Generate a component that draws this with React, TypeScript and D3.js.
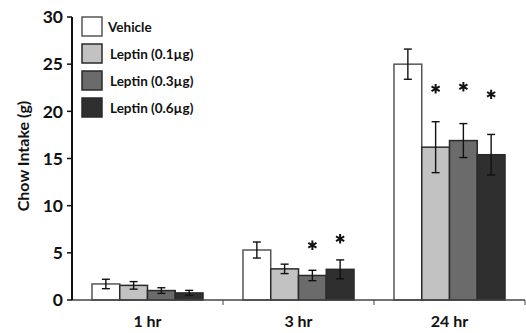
import * as d3 from "d3";

const groups = ["1 hr", "3 hr", "24 hr"];
const series = ["Vehicle", "Leptin (0.1µg)", "Leptin (0.3µg)", "Leptin (0.6µg)"];
const colors = ["#ffffff", "#c2c2c2", "#6b6b6b", "#2f2f2f"];
// mean intake per group, one array per series
const vehicle = [1.7, 5.3, 25.0];
const leptin01 = [1.55, 3.3, 16.2];
const leptin03 = [1.0, 2.6, 16.9];
const leptin06 = [0.75, 3.25, 15.4];
// SEM
const vehicleErr = [0.5, 0.85, 1.6];
const leptin01Err = [0.4, 0.5, 2.7];
const leptin03Err = [0.3, 0.55, 1.8];
const leptin06Err = [0.27, 1.0, 2.15];
// asterisk heights (null = no mark)
const stars3hr = [null, null, 5.8, 6.5];
const stars24hr = [null, 22.4, 22.6, 21.8];
const yTicks = [0, 5, 10, 15, 20, 25, 30];

const means = [vehicle, leptin01, leptin03, leptin06];
const errs = [vehicleErr, leptin01Err, leptin03Err, leptin06Err];
const stars = [[null, null, null, null], stars3hr, stars24hr];

const W = 526;
const H = 333;
const left = 72;
const right = 525;
const top = 17;
const bottom = 300;
const font = "Lato, 'Open Sans', sans-serif";

export default function App() {
  const x0 = d3.scaleBand().domain(groups).range([left, right]).padding(0);
  const x1 = d3
    .scaleBand()
    .domain(series)
    .range([0, x0.bandwidth()])
    .paddingInner(0)
    .paddingOuter(0.72);
  const y = d3.scaleLinear().domain([0, 30]).range([bottom, top]);
  const asterisk = d3.symbol().type(d3.symbolAsterisk).size(62)();

  return (
    <svg width={W} height={H} style={{ position: "absolute", left: 0, top: 0 }}>
      <rect width={W} height={H} fill="#fff" />

      {/* bars */}
      {groups.map((g, gi) => (
        <g key={g} transform={`translate(${x0(g)},0)`}>
          {series.map((s, si) => {
            const v = means[si][gi];
            const e = errs[si][gi];
            const bx = x1(s)!;
            const cx = bx + x1.bandwidth() / 2;
            return (
              <g key={s}>
                <rect
                  x={bx}
                  y={y(v)}
                  width={x1.bandwidth()}
                  height={bottom - y(v)}
                  fill={colors[si]}
                  stroke={si === 0 ? "#555" : "#2a2a2a"}
                  strokeWidth={1.5}
                />
                <g stroke="#111" strokeWidth={1.4}>
                  <line x1={cx} x2={cx} y1={y(v + e)} y2={y(v - e)} />
                  <line x1={cx - 4} x2={cx + 4} y1={y(v + e)} y2={y(v + e)} />
                  <line x1={cx - 4} x2={cx + 4} y1={y(v - e)} y2={y(v - e)} />
                </g>
              </g>
            );
          })}
          {stars[gi].map((sv, si) =>
            sv == null ? null : (
              <path
                key={si}
                d={asterisk}
                transform={`translate(${x1(series[si])! + x1.bandwidth() / 2},${y(sv)})`}
                fill="none"
                stroke="#111"
                strokeWidth={2}
              />
            )
          )}
        </g>
      ))}

      {/* x axis */}
      <line x1={left} x2={right} y1={bottom} y2={bottom} stroke="#444" strokeWidth={1.5} />
      {groups.map((g) => (
        <line
          key={g}
          x1={x0(g)! + x0.bandwidth()}
          x2={x0(g)! + x0.bandwidth()}
          y1={bottom}
          y2={bottom + 5}
          stroke="#444"
          strokeWidth={1}
        />
      ))}
      {groups.map((g) => (
        <text
          key={g}
          x={x0(g)! + x0.bandwidth() / 2}
          y={327}
          textAnchor="middle"
          fontFamily={font}
          fontWeight="bold"
          fontSize={16}
          fill="#111"
        >
          {g}
        </text>
      ))}

      {/* y axis */}
      <line x1={left} x2={left} y1={top} y2={bottom} stroke="#111" strokeWidth={2} />
      {yTicks.map((t) => (
        <g key={t}>
          <line x1={left - 5} x2={left} y1={y(t)} y2={y(t)} stroke="#111" strokeWidth={1.5} />
          <text
            x={left - 9}
            y={y(t)}
            dy="0.36em"
            textAnchor="end"
            fontFamily={font}
            fontWeight="bold"
            fontSize={17.5}
            fill="#111"
          >
            {t}
          </text>
        </g>
      ))}
      <text
        transform={`translate(29,156) rotate(-90)`}
        textAnchor="middle"
        fontFamily={font}
        fontWeight="bold"
        fontSize={16}
        fill="#111"
      >
        Chow Intake (g)
      </text>

      {/* legend */}
      {series.map((s, si) => (
        <g key={s} transform={`translate(82,${17 + si * 27})`}>
          <rect
            width={20}
            height={19}
            fill={colors[si]}
            stroke={si === 0 ? "#555" : "#2a2a2a"}
            strokeWidth={1.5}
          />
          <text
            x={si === 0 ? 26 : 28}
            y={10}
            dy="0.35em"
            fontFamily={font}
            fontWeight="bold"
            fontSize={13.5}
            fill="#111"
          >
            {s}
          </text>
        </g>
      ))}
    </svg>
  );
}
